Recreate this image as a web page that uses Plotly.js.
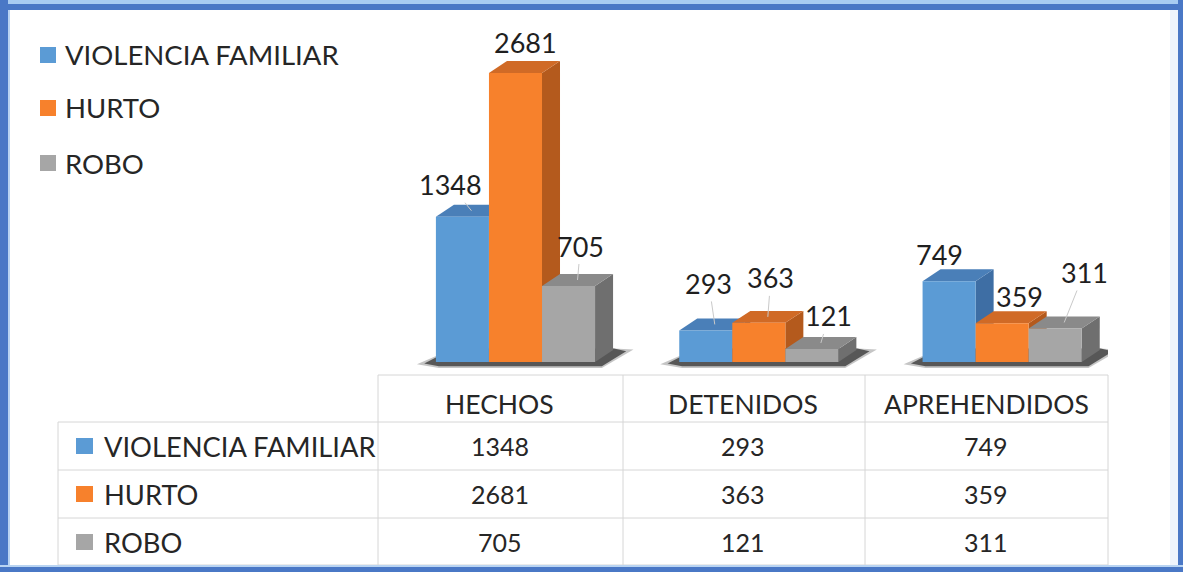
<!DOCTYPE html>
<html><head><meta charset="utf-8">
<script src="https://cdn.plot.ly/plotly-3.0.1.min.js"></script>
<style>html,body{margin:0;padding:0;background:#fff;overflow:hidden}#chart{width:1183px;height:572px;}</style>
</head><body><div id="chart"></div>
<script>
// ---------- DATA ----------
const categories = ['HECHOS', 'DETENIDOS', 'APREHENDIDOS'];
const seriesNames = ['VIOLENCIA FAMILIAR', 'HURTO', 'ROBO'];
const violenciaFamiliar = [1348, 293, 749];
const hurto = [2681, 363, 359];
const robo = [705, 121, 311];
const seriesValues = [violenciaFamiliar, hurto, robo];

// ---------- STYLE ----------
const W = 1183, H = 572;
const FONT = 'Lato, "Open Sans", sans-serif';
const frontColors = ['#5b9bd5', '#f7812c', '#a6a6a6'];
const topColors   = ['#4a7fb8', '#d06a26', '#8a8a8a'];
const sideColors  = ['#3e6ea4', '#b45a1d', '#6f6f6f'];
const barOffsets = [-0.262, -0.044, 0.174];
const barWidth = 0.218;
const depthX = 0.074;
const depthY = 111;
const labelOffsets = [
  [[-21, -26], [-6, -41], [-19, -21]],
  [[1, -25], [3, -39], [8, -21]],
  [[3, -34], [8, -27], [20, -50]]
];
const leaderVisible = [
  [true, true, false],
  [false, true, false],
  [true, true, true]
];
const px = x => x / W;
const py = y => 1 - y / H;

const traces = [];
// floor shadows (soft outer + darker inner)
categories.forEach((c, i) => {
  traces.push({
    type: 'scatter', mode: 'lines', fill: 'toself', hoverinfo: 'skip', showlegend: false,
    x: [i - 0.34, i - 0.25, i + 0.42, i + 0.55, i + 0.47, i - 0.19],
    y: [-20, -55, -55, 115, 125, 125],
    fillcolor: 'rgba(90,90,90,0.35)', line: {width: 0}
  });
  traces.push({
    type: 'scatter', mode: 'lines', fill: 'toself', hoverinfo: 'skip', showlegend: false,
    x: [i - 0.31, i - 0.25, i + 0.42, i + 0.52, i + 0.47, i - 0.19],
    y: [-15, -40, -40, 100, 125, 125],
    fillcolor: 'rgba(50,50,50,0.75)', line: {width: 0}
  });
});
// bars (3D faces)
seriesValues.forEach((vals, s) => {
  vals.forEach((v, i) => {
    const L = i + barOffsets[s], R = L + barWidth;
    traces.push({type: 'scatter', mode: 'lines', fill: 'toself', hoverinfo: 'skip', showlegend: false,
      x: [R, R + depthX, R + depthX, R], y: [0, depthY, v + depthY, v],
      fillcolor: sideColors[s], line: {width: 0}});
    traces.push({type: 'scatter', mode: 'lines', fill: 'toself', hoverinfo: 'skip', showlegend: false,
      x: [L, R, R + depthX, L + depthX], y: [v, v, v + depthY, v + depthY],
      fillcolor: topColors[s], line: {width: 0}});
    traces.push({type: 'scatter', mode: 'lines', fill: 'toself', showlegend: false,
      name: seriesNames[s], text: categories[i] + ': ' + v, hoverinfo: 'text',
      x: [L, R, R, L], y: [0, 0, v, v],
      fillcolor: frontColors[s], line: {width: 0}});
  });
});

const annotations = [];
const shapes = [];

// data labels
seriesValues.forEach((vals, s) => {
  vals.forEach((v, i) => {
    const L = i + barOffsets[s];
    annotations.push({
      xref: 'x', yref: 'y', x: L + barWidth / 2 + depthX / 2, y: v + depthY / 2,
      text: String(v), showarrow: true, arrowhead: 0, arrowwidth: 1, standoff: 0,
      arrowcolor: leaderVisible[s][i] ? '#c9c9c9' : 'rgba(0,0,0,0)',
      ax: labelOffsets[s][i][0], ay: labelOffsets[s][i][1],
      font: {family: FONT, size: 27, color: '#1f1f1f'}
    });
  });
});

// legend
const legendY = [55, 108, 163];
seriesNames.forEach((n, s) => {
  shapes.push({type: 'rect', xref: 'paper', yref: 'paper', x0: px(40), x1: px(56),
    y0: py(legendY[s] - 8), y1: py(legendY[s] + 8), fillcolor: frontColors[s], line: {width: 0}});
  annotations.push({xref: 'paper', yref: 'paper', x: px(63), y: py(legendY[s]), xanchor: 'left', yanchor: 'middle',
    text: n, showarrow: false, font: {family: FONT, size: 27.5, color: '#262626'}});
});

// data table
const gridColor = '#d6d6d6';
const colEdges = [378, 623, 865, 1108];
const rowY = [446, 494, 542];
const headerY = 404;
function line(x0, y0, x1, y1) {
  shapes.push({type: 'line', xref: 'paper', yref: 'paper', x0: px(x0), y0: py(y0), x1: px(x1), y1: py(y1),
    line: {color: gridColor, width: 1}});
}
line(378, 375, 1108, 375);
[422, 470, 518, 565].forEach(y => line(58, y, 1108, y));
line(58, 422, 58, 565);
colEdges.forEach(x => line(x, 375, x, 565));
categories.forEach((c, i) => {
  annotations.push({xref: 'x', yref: 'paper', x: i, y: py(headerY), text: c, showarrow: false,
    yanchor: 'middle', font: {family: FONT, size: 26.5, color: '#262626'}});
});
seriesNames.forEach((n, s) => {
  shapes.push({type: 'rect', xref: 'paper', yref: 'paper', x0: px(76), x1: px(93),
    y0: py(rowY[s] - 8), y1: py(rowY[s] + 8), fillcolor: frontColors[s], line: {width: 0}});
  annotations.push({xref: 'paper', yref: 'paper', x: px(102), y: py(rowY[s]), xanchor: 'left', yanchor: 'middle',
    text: n, showarrow: false, font: {family: FONT, size: 27.3, color: '#262626'}});
  seriesValues[s].forEach((v, i) => {
    annotations.push({xref: 'x', yref: 'paper', x: i, y: py(rowY[s]), text: String(v), showarrow: false,
      yanchor: 'middle', font: {family: FONT, size: 25, color: '#262626'}});
  });
});

// frame
function rect(x0, y0, x1, y1, color) {
  shapes.push({type: 'rect', xref: 'paper', yref: 'paper', x0: px(x0), y0: py(y0), x1: px(x1), y1: py(y1),
    fillcolor: color, line: {width: 0}, layer: 'above'});
}
rect(0, 0, W, 4, '#a8ccf2');
rect(0, 4, W, 10, '#4a78c6');
rect(0, 0, 8, H, '#4a78c6');
rect(8, 10, 10, H - 6, '#b9d4f2');
rect(1170, 10, 1178, H - 6, '#eef4fc');
rect(1178, 0, W, H, '#4a78c6');
rect(0, 565, W, 567, '#b9d4f2');
rect(0, 567, W, H, '#4a78c6');

const layout = {
  width: W, height: H, margin: {l: 0, r: 0, t: 0, b: 0},
  paper_bgcolor: '#ffffff', plot_bgcolor: 'rgba(0,0,0,0)', showlegend: false,
  xaxis: {range: [-0.5, 2.5], domain: [378 / W, 1108 / W], visible: false, fixedrange: true},
  yaxis: {range: [-92.8, 3080], domain: [(H - 372) / H, (H - 30) / H], visible: false, fixedrange: true},
  annotations: annotations, shapes: shapes
};
Plotly.newPlot('chart', traces, layout, {displayModeBar: false, staticPlot: true});
</script>
</body></html>
